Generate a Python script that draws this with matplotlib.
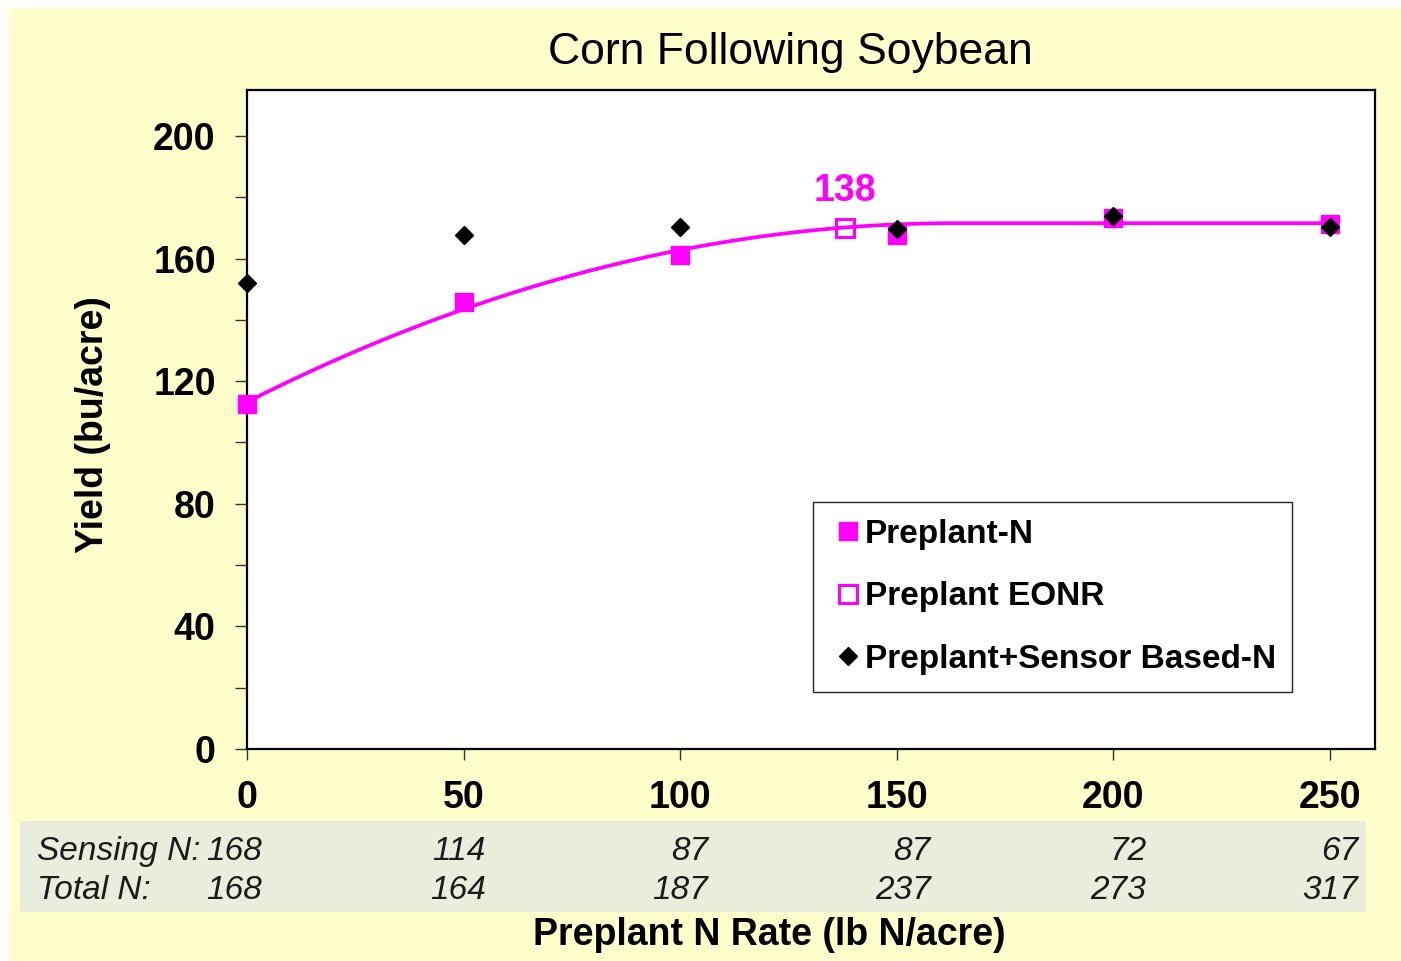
import numpy as np
import matplotlib
matplotlib.use("Agg")
import matplotlib.pyplot as plt
from matplotlib.patches import Rectangle
import matplotlib.transforms as mtransforms

plt.rcParams['font.family'] = ['Liberation Sans', 'DejaVu Sans']

# ---------------- data ----------------
preplant_rates = [0, 50, 100, 150, 200, 250]
preplant_yield = [112.7, 145.8, 161.1, 167.8, 173.2, 171.2]
sensor_yield = [152.0, 167.6, 170.3, 169.5, 173.9, 170.3]
eonr_rate = 138
eonr_yield = 169.9
eonr_label = "138"
sensing_n = [168, 114, 87, 87, 72, 67]
total_n = [168, 164, 187, 237, 273, 317]
# quadratic-plateau fit of preplant yield
qp_intercept = 113.2
qp_linear = 0.7149
qp_quad = -0.00219
qp_join = 163.2
x_ticks = [0, 50, 100, 150, 200, 250]
y_ticks = [0, 40, 80, 120, 160, 200]
y_minor = [20, 60, 100, 140, 180]

W, H = 1401, 961
fig = plt.figure(figsize=(W / 100, H / 100), dpi=100, facecolor='white')

def px(x, y):
    return x / W, 1 - y / H

# yellow background panel
fig.patches.append(Rectangle(px(9, 961), (W - 9) / W, (961 - 8) / H,
                             transform=fig.transFigure, facecolor='#FFFFCC',
                             edgecolor='none', zorder=-3))
# table band
fig.patches.append(Rectangle(px(20, 912), (1366 - 20) / W, (912 - 821) / H,
                             transform=fig.transFigure, facecolor='#EBEDDC',
                             edgecolor='none', zorder=-2))

ax = fig.add_axes([247 / W, 1 - 749 / H, (1375 - 247) / W, (749 - 90) / H])
ax.set_zorder(1)
ax.set_facecolor('white')
ax.set_xlim(0, 260.4)
ax.set_ylim(0, 215)
for s in ax.spines.values():
    s.set_linewidth(1.6)
    s.set_color('black')

magenta = '#FF00FF'

# fitted curve
xc = np.linspace(0, 250, 400)
xq = np.minimum(xc, qp_join)
yc = qp_intercept + qp_linear * xq + qp_quad * xq ** 2
ax.plot(xc, yc, color=magenta, lw=2.7, zorder=3, clip_on=False)

ax.plot(preplant_rates, preplant_yield, ls='none', marker='s', ms=12.5,
        mfc=magenta, mec=magenta, zorder=4, clip_on=False, label='Preplant-N')
ax.plot([eonr_rate], [eonr_yield], ls='none', marker='s', ms=13.5,
        mfc='none', mec=magenta, mew=2.2, zorder=4, clip_on=False,
        label='Preplant EONR')
ax.plot(preplant_rates, sensor_yield, ls='none', marker='D', ms=9.5,
        mfc='black', mec='black', zorder=5, clip_on=False,
        label='Preplant+Sensor Based-N')

ax.annotate(eonr_label, (eonr_rate, eonr_yield), xytext=(0, 19.5),
            textcoords='offset points', ha='center', va='baseline',
            color=magenta, fontsize=27, fontweight='bold')

# ticks
ax.set_xticks(x_ticks)
ax.set_xticklabels([str(v) for v in x_ticks])
ax.set_yticks(y_ticks)
ax.set_yticklabels([str(v) for v in y_ticks])
ax.set_yticks(y_minor, minor=True)
ax.tick_params(axis='both', which='both', direction='out', width=1.0,
               color='#333333')
ax.tick_params(axis='y', which='major', length=8.5, pad=14, labelsize=27)
ax.tick_params(axis='y', which='minor', length=8.5)
ax.tick_params(axis='x', which='major', length=8, pad=14, labelsize=27)
for lab in ax.get_xticklabels() + ax.get_yticklabels():
    lab.set_fontweight('bold')

# legend
leg = ax.legend(loc='upper left', bbox_to_anchor=((813 - 247) / 1128, (749 - 502) / 659),
                borderaxespad=0, frameon=True, fancybox=False, framealpha=1,
                edgecolor='#222222', prop={'weight': 'bold', 'size': 24},
                numpoints=1, handlelength=1.1, handletextpad=-0.05,
                labelspacing=0.95, borderpad=0.5, markerscale=1.0)
leg.get_frame().set_linewidth(1.0)

# titles and labels
fig.text(*px(790, 64), 'Corn Following Soybean', ha='center', va='baseline',
         fontsize=32, color='black')
fig.text(*px(769, 945), 'Preplant N Rate (lb N/acre)', ha='center',
         va='baseline', fontsize=27, fontweight='bold')
fig.text(*px(103, 425), 'Yield (bu/acre)', rotation=90, rotation_mode='anchor',
         ha='center', va='baseline', fontsize=27, fontweight='bold')

# table below axis
col_offsets_px = [15, 22, 28, 34, 33, 28]
row_baselines_px = [860, 899]
tcol = '#1a1a1a'
fig.text(*px(37, row_baselines_px[0]), 'Sensing N:', ha='left', va='baseline',
         fontsize=24, style='italic', color=tcol)
fig.text(*px(37, row_baselines_px[1]), 'Total N:', ha='left', va='baseline',
         fontsize=24, style='italic', color=tcol)
for i, r in enumerate(preplant_rates):
    for vals, yb in zip([sensing_n, total_n], row_baselines_px):
        tr = mtransforms.blended_transform_factory(ax.transData, fig.transFigure)
        tr = tr + mtransforms.ScaledTranslation(col_offsets_px[i] / 100, 0,
                                                fig.dpi_scale_trans)
        fig.text(r, 1 - yb / H, str(vals[i]), transform=tr, ha='right',
                 va='baseline', fontsize=24, style='italic', color=tcol)

fig.savefig('out.png', dpi=100, facecolor=fig.get_facecolor())
